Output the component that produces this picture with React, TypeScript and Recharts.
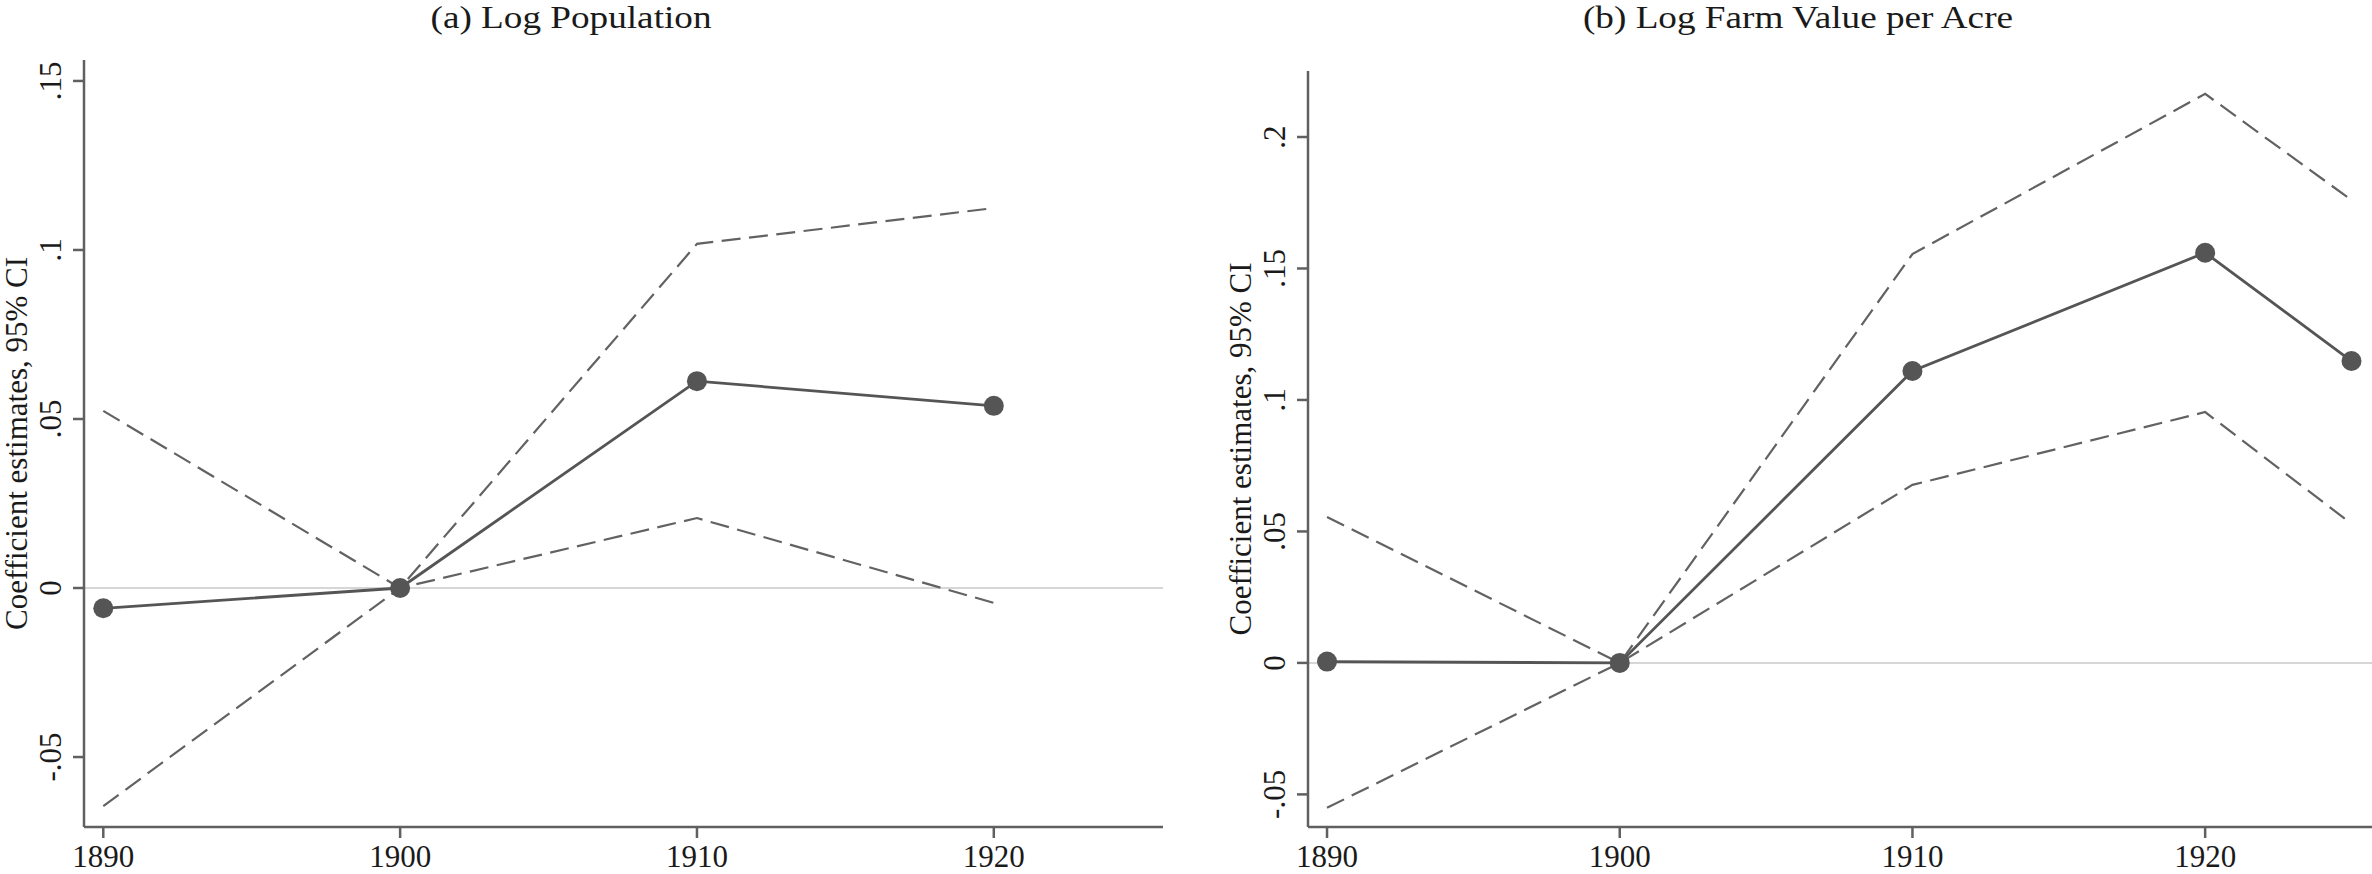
import React from 'react';
import { LineChart, Line, XAxis, YAxis, ReferenceLine } from 'recharts';

// panel (a): log population
const popYears = [1890, 1900, 1910, 1920];
const popEst = [-0.006, 0, 0.0612, 0.0539];
const popLower = [-0.0645, 0, 0.0207, -0.0044];
const popUpper = [0.0524, 0, 0.1018, 0.1124];

// panel (b): log farm value per acre
const farmYears = [1890, 1900, 1910, 1920, 1925];
const farmEst = [0.0005, 0, 0.111, 0.156, 0.1148];
const farmLower = [-0.0551, 0, 0.0677, 0.0954, 0.0529];
const farmUpper = [0.0555, 0, 0.1555, 0.2164, 0.176];

const xTicks = [1890, 1900, 1910, 1920];
const popYTicks = [-0.05, 0, 0.05, 0.1, 0.15];
const farmYTicks = [-0.05, 0, 0.05, 0.1, 0.15, 0.2];

const FONT = '"Liberation Serif", "Times New Roman", serif';
const TEXT = '#1a1a1a';
const AXIS = '#606060';
const MAIN = '#555555';
const CI = '#626262';

const fmt = (v: number) =>
  v === 0 ? '0' : (v < 0 ? '-' : '') + String(Math.abs(v)).replace(/^0/, '');

function RotatedTick({ x, y, payload }: any) {
  return (
    <text
      x={x}
      y={y}
      transform={`rotate(-90, ${x}, ${y})`}
      textAnchor="middle"
      fill={TEXT}
      fontSize={31}
      fontFamily={FONT}
    >
      {fmt(payload.value)}
    </text>
  );
}

function AxisTitle({ viewBox }: any) {
  const cx = viewBox.x + viewBox.width - 57;
  const cy = viewBox.y + viewBox.height / 2;
  return (
    <text
      x={cx}
      y={cy}
      transform={`rotate(-90, ${cx}, ${cy})`}
      textAnchor="middle"
      fill={TEXT}
      fontSize={31}
      fontFamily={FONT}
    >
      Coefficient estimates, 95% CI
    </text>
  );
}

interface PanelProps {
  data: { year: number; est: number; lo: number; hi: number }[];
  width: number;
  top: number;
  right: number;
  yAxisWidth: number;
  yDomain: [number, number];
  yTicks: number[];
}

function Panel({ data, width, top, right, yAxisWidth, yDomain, yTicks }: PanelProps) {
  return (
    <LineChart width={width} height={874} data={data} margin={{ top, right, bottom: 0, left: 0 }}>
      <XAxis
        type="number"
        dataKey="year"
        domain={[1889.35, 1925.7]}
        ticks={xTicks}
        interval={0}
        allowDataOverflow
        height={47}
        tickSize={11}
        tickMargin={7}
        axisLine={{ stroke: AXIS, strokeWidth: 2.5 }}
        tickLine={{ stroke: AXIS, strokeWidth: 2.5 }}
        tick={{ fill: TEXT, fontSize: 31, fontFamily: FONT }}
      />
      <YAxis
        type="number"
        domain={yDomain}
        ticks={yTicks}
        interval={0}
        allowDataOverflow
        width={yAxisWidth}
        tickSize={11}
        tickMargin={12}
        axisLine={{ stroke: AXIS, strokeWidth: 2.5 }}
        tickLine={{ stroke: AXIS, strokeWidth: 2.5 }}
        tick={<RotatedTick />}
        label={<AxisTitle />}
      />
      <ReferenceLine y={0} stroke="#c8c8c8" strokeWidth={1.5} />
      <Line type="linear" dataKey="hi" stroke={CI} strokeWidth={2.2} strokeDasharray="19 8.5" dot={false} isAnimationActive={false} />
      <Line type="linear" dataKey="lo" stroke={CI} strokeWidth={2.2} strokeDasharray="19 8.5" dot={false} isAnimationActive={false} />
      <Line
        type="linear"
        dataKey="est"
        stroke={MAIN}
        strokeWidth={2.8}
        dot={{ r: 10, fill: MAIN, stroke: MAIN, strokeWidth: 0 }}
        isAnimationActive={false}
      />
    </LineChart>
  );
}

const titleStyle: React.CSSProperties = {
  position: 'absolute',
  top: 2,
  fontFamily: FONT,
  fontSize: 31,
  lineHeight: '31px',
  color: TEXT,
  textAlign: 'center',
  whiteSpace: 'nowrap',
  transform: 'scaleX(1.2)',
};

export default function App() {
  const popData = popYears.map((year, i) => ({ year, est: popEst[i], lo: popLower[i], hi: popUpper[i] }));
  const farmData = farmYears.map((year, i) => ({ year, est: farmEst[i], lo: farmLower[i], hi: farmUpper[i] }));

  return (
    <div style={{ position: 'absolute', left: 0, top: 0, width: 2372, height: 874, background: '#fff', overflow: 'hidden' }}>
      <div style={{ ...titleStyle, left: 371, width: 400 }}>(a) Log Population</div>
      <div style={{ ...titleStyle, left: 1548, width: 500 }}>(b) Log Farm Value per Acre</div>
      <div style={{ position: 'absolute', left: 0, top: 0 }}>
        <Panel data={popData} width={1180} top={60} right={17} yAxisWidth={84} yDomain={[-0.0707, 0.1562]} yTicks={popYTicks} />
      </div>
      <div style={{ position: 'absolute', left: 1180, top: 0 }}>
        <Panel data={farmData} width={1192} top={71} right={0} yAxisWidth={128} yDomain={[-0.0624, 0.2251]} yTicks={farmYTicks} />
      </div>
    </div>
  );
}
